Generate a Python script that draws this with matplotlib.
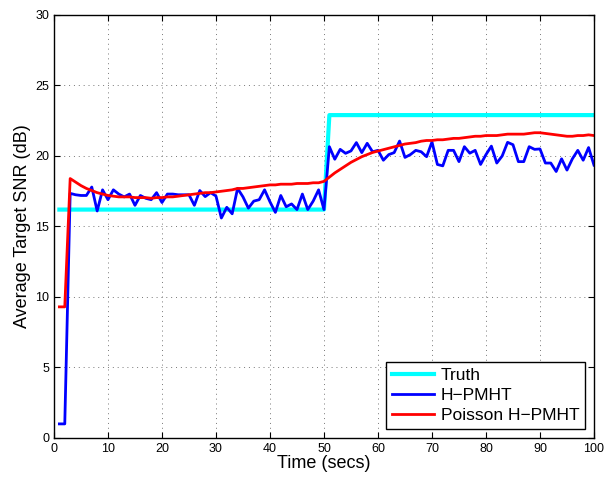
import numpy as np
import matplotlib
matplotlib.use("Agg")
import matplotlib.pyplot as plt

plt.rcParams['font.family'] = ['Liberation Sans', 'DejaVu Sans']

t = np.arange(1, 101)

truth = [16.2] * 50 + [22.9] * 50

hpmht = [1.0, 1.0, 17.35, 17.25, 17.2, 17.2, 17.8, 16.1, 17.6, 16.9,
         17.6, 17.3, 17.1, 17.3, 16.5, 17.2, 17.0, 16.9, 17.4, 16.7,
         17.3, 17.3, 17.25, 17.25, 17.25, 16.5, 17.55, 17.12, 17.4, 17.16,
         15.6, 16.36, 15.9, 17.7, 17.1, 16.3, 16.8, 16.9, 17.6, 16.75,
         16.0, 17.2, 16.4, 16.6, 16.2, 17.3, 16.2, 16.8, 17.6, 16.2,
         20.66, 19.77, 20.47, 20.19, 20.36, 20.95, 20.24, 20.9, 20.3, 20.4,
         19.7, 20.1, 20.24, 21.06, 19.9, 20.1, 20.4, 20.3, 19.95, 21.0,
         19.4, 19.3, 20.4, 20.4, 19.6, 20.66, 20.2, 20.4, 19.4, 20.1,
         20.7, 19.5, 20.0, 20.97, 20.8, 19.6, 19.6, 20.66, 20.47, 20.5,
         19.5, 19.5, 18.9, 19.8, 19.0, 19.8, 20.4, 19.7, 20.6, 19.35]

poisson = [9.3, 9.3, 18.4, 18.15, 17.9, 17.7, 17.55, 17.4, 17.3, 17.2,
           17.15, 17.1, 17.1, 17.1, 17.05, 17.05, 17.05, 17.0, 17.05, 17.05,
           17.1, 17.1, 17.15, 17.2, 17.25, 17.3, 17.35, 17.4, 17.4, 17.45,
           17.5, 17.55, 17.6, 17.7, 17.7, 17.75, 17.8, 17.85, 17.9, 17.95,
           17.95, 18.0, 18.0, 18.0, 18.05, 18.05, 18.05, 18.1, 18.1, 18.2,
           18.5, 18.8, 19.05, 19.3, 19.55, 19.75, 19.95, 20.1, 20.25, 20.35,
           20.45, 20.55, 20.65, 20.75, 20.85, 20.9, 20.95, 21.05, 21.1, 21.1,
           21.15, 21.15, 21.2, 21.25, 21.25, 21.3, 21.35, 21.4, 21.4, 21.45,
           21.45, 21.45, 21.5, 21.55, 21.55, 21.55, 21.55, 21.6, 21.65, 21.65,
           21.6, 21.55, 21.5, 21.45, 21.4, 21.4, 21.45, 21.45, 21.5, 21.45]

fig = plt.figure(figsize=(6.14, 4.79), dpi=100)
ax = fig.add_axes([0.0879, 0.0856, 0.8795, 0.8831])

ax.plot(t, truth, color='#00ffff', lw=3, label='Truth')
ax.plot(t, hpmht, color='#0000ff', lw=2, label='H\u2212PMHT')
ax.plot(t, poisson, color='#ff0000', lw=2, label='Poisson H\u2212PMHT')

ax.set_xlim(0, 100)
ax.set_ylim(0, 30)
ax.set_xticks(np.arange(0, 101, 10))
ax.set_yticks(np.arange(0, 31, 5))
ax.tick_params(direction='in', labelsize=9, length=4, top=True, right=True)
ax.grid(True, linestyle=(0, (1, 4)), color='#777777', lw=0.7)
for s in ax.spines.values():
    s.set_linewidth(1.0)

ax.set_xlabel('Time (secs)', fontsize=13, labelpad=0)
ax.set_ylabel('Average Target SNR (dB)', fontsize=13, labelpad=3)

leg = ax.legend(loc='lower right', fontsize=12.5, fancybox=False,
                edgecolor='black', framealpha=1, handlelength=2.4,
                handletextpad=0.4, borderpad=0.35, labelspacing=0.28,
                borderaxespad=0.5)
leg.get_frame().set_linewidth(1.0)

fig.savefig('out.png', dpi=100)
